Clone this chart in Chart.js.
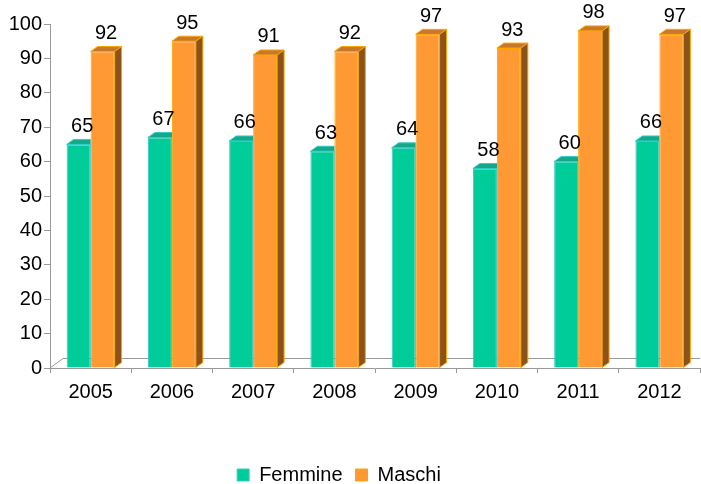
<!DOCTYPE html>
<html>
<head>
  <script src="https://cdn.jsdelivr.net/npm/chart.js"></script>
  <title>Femmine / Maschi</title>
  <style>
    body { margin: 0; background: #fff; }
    #wrap { width: 701px; height: 484px; }
  </style>
</head>
<body>
  <div id="wrap"><canvas id="chart"></canvas></div>
  <script>
    // dati
    let anni = ['2005', '2006', '2007', '2008', '2009', '2010', '2011', '2012'];
    let femmine = [65, 67, 66, 63, 64, 58, 60, 66];
    let maschi = [92, 95, 91, 92, 97, 93, 98, 97];
    let yTicks = [0, 10, 20, 30, 40, 50, 60, 70, 80, 90, 100];

    const font = { family: '"Liberation Sans", Arial, sans-serif', size: 20 };
    const depth = { dx: 7, dy: 5 };
    const shade = [
      { top: '#12a888', side: '#007a5c', line: '#33cccc' },
      { top: '#c8782c', side: '#8b5219', line: '#ffa500' }
    ];

    function poly(ctx, pts, fill, line) {
      ctx.beginPath();
      ctx.moveTo(pts[0][0], pts[0][1]);
      pts.slice(1).forEach(p => ctx.lineTo(p[0], p[1]));
      ctx.closePath();
      ctx.fillStyle = fill;
      ctx.fill();
      ctx.strokeStyle = line;
      ctx.lineWidth = 1;
      ctx.stroke();
    }

    // finto 3D: pavimento, facce superiori e laterali, etichette
    const bar3d = {
      id: 'bar3d',
      afterLayout(chart) {
        // sposta la legenda un po' a sinistra come nell'originale
        chart.legend.left -= 22;
      },
      beforeDatasetsDraw(chart) {
        const { ctx, chartArea: a } = chart;
        ctx.save();
        ctx.strokeStyle = '#999';
        ctx.lineWidth = 1;
        ctx.beginPath();
        ctx.moveTo(a.left, a.bottom);
        ctx.lineTo(a.left + 13, a.bottom - 9.5);
        ctx.lineTo(a.right, a.bottom - 9.5);
        ctx.stroke();
        ctx.restore();
      },
      afterDatasetDraw(chart, args) {
        const ctx = chart.ctx;
        const s = shade[args.index];
        ctx.save();
        args.meta.data.forEach(bar => {
          const { x, y, width, base } = bar.getProps(['x', 'y', 'width', 'base'], true);
          const l = x - width / 2, r = x + width / 2;
          ctx.save();
          if (args.index === 0) {
            // la parte destra è coperta dalla barra Maschi
            ctx.beginPath();
            ctx.rect(0, 0, r, chart.height);
            ctx.clip();
          }
          poly(ctx, [[l, y], [l + depth.dx, y - depth.dy], [r + depth.dx, y - depth.dy], [r, y]], s.top, s.line);
          poly(ctx, [[r, y], [r + depth.dx, y - depth.dy], [r + depth.dx, base - depth.dy], [r, base]], s.side, s.line);
          ctx.restore();
        });
        ctx.restore();
      },
      afterDatasetsDraw(chart) {
        const ctx = chart.ctx;
        ctx.save();
        ctx.font = font.size + 'px ' + font.family;
        ctx.fillStyle = '#000';
        ctx.textAlign = 'center';
        ctx.textBaseline = 'alphabetic';
        chart.data.datasets.forEach((ds, di) => {
          chart.getDatasetMeta(di).data.forEach((bar, i) => {
            const { x, y } = bar.getProps(['x', 'y'], true);
            ctx.fillText(ds.data[i], x + depth.dx / 2, y - 12.5);
          });
        });
        ctx.restore();
      }
    };

    let ctx = document.getElementById('chart').getContext('2d');
    new Chart(ctx, {
      type: 'bar',
      data: {
        labels: anni,
        datasets: [
          { label: 'Femmine', data: femmine, backgroundColor: '#00cc99', borderColor: '#33cccc', borderWidth: 1 },
          { label: 'Maschi', data: maschi, backgroundColor: '#ff9933', borderColor: '#ffa500', borderWidth: 1 }
        ]
      },
      options: {
        responsive: true,
        maintainAspectRatio: false,
        animation: false,
        layout: { padding: { top: 24, right: 1, left: 0, bottom: -11 } },
        categoryPercentage: 0.59,
        barPercentage: 1,
        plugins: {
          legend: {
            position: 'bottom',
            labels: { font: font, color: '#000', boxWidth: 12, boxHeight: 12, padding: 13 }
          },
          tooltip: { enabled: false }
        },
        scales: {
          x: {
            grid: { drawOnChartArea: false, tickLength: 5, color: '#999' },
            border: { color: '#999' },
            ticks: { font: font, color: '#000', padding: 7 },
            afterFit: s => { s.height = 84; }
          },
          y: {
            min: 0,
            max: 100,
            afterBuildTicks: s => { s.ticks = yTicks.map(v => ({ value: v })); },
            grid: { drawOnChartArea: false, tickLength: 6, color: '#999' },
            border: { color: '#999' },
            ticks: { font: font, color: '#000', padding: 2 },
            afterFit: s => { s.width = 50; }
          }
        }
      },
      plugins: [bar3d]
    });
  </script>
</body>
</html>
